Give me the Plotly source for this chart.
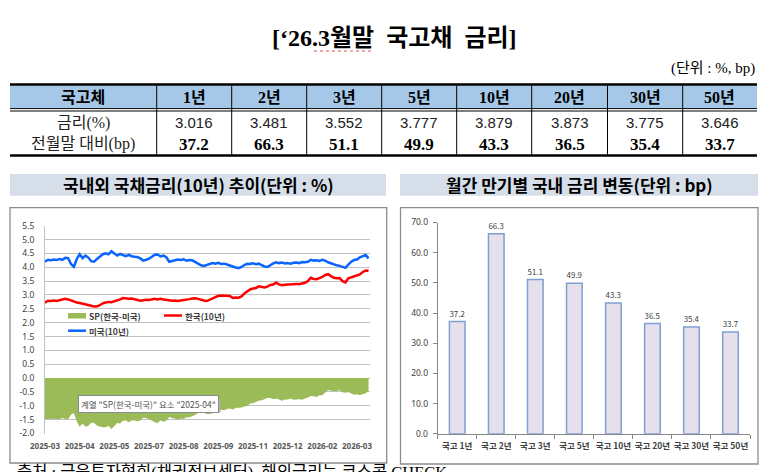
import plotly.graph_objects as go

W, H = 780, 472

# table / bar data
tenors = ['1년', '2년', '3년', '5년', '10년', '20년', '30년', '50년']
rates = [3.016, 3.481, 3.552, 3.777, 3.879, 3.873, 3.775, 3.646]
changes = [37.2, 66.3, 51.1, 49.9, 43.3, 36.5, 35.4, 33.7]
bar_cats = ['국고 ' + t for t in tenors]

# 10y yields (one point every ~2 trading days)
tick_labels = ['2025-03', '2025-04', '2025-05', '2025-07', '2025-08',
               '2025-09', '2025-11', '2025-12', '2026-02', '2026-03']
tick_step = 12

us10 = [4.20, 4.27, 4.25, 4.28, 4.26, 4.30, 4.27, 4.34, 4.33, 4.12, 4.02, 4.30,
        4.47, 4.33, 4.42, 4.35, 4.22, 4.20, 4.30, 4.38, 4.47, 4.50, 4.47, 4.58,
        4.50, 4.42, 4.48, 4.43, 4.40, 4.45, 4.40, 4.38, 4.37, 4.32, 4.24, 4.27,
        4.31, 4.38, 4.45, 4.46, 4.39, 4.42, 4.36, 4.20, 4.23, 4.27, 4.28, 4.26,
        4.29, 4.24, 4.26, 4.25, 4.20, 4.12, 4.07, 4.05, 4.08, 4.13, 4.15, 4.13,
        4.16, 4.12, 4.13, 4.10, 4.06, 4.02, 3.99, 3.97, 4.01, 4.08, 4.13, 4.12,
        4.14, 4.11, 4.13, 4.08, 4.03, 4.01, 4.08, 4.14, 4.18, 4.15, 4.17, 4.14,
        4.15, 4.13, 4.16, 4.17, 4.15, 4.19, 4.18, 4.20, 4.27, 4.24, 4.25, 4.23,
        4.27, 4.24, 4.18, 4.14, 4.09, 4.07, 4.05, 4.01, 3.98, 4.10, 4.20, 4.26,
        4.28, 4.36, 4.40, 4.44, 4.32]

kr10 = [2.72, 2.79, 2.78, 2.80, 2.78, 2.81, 2.83, 2.86, 2.84, 2.80, 2.76, 2.73,
        2.71, 2.69, 2.66, 2.63, 2.61, 2.58, 2.59, 2.63, 2.70, 2.73, 2.75, 2.74,
        2.77, 2.80, 2.84, 2.89, 2.87, 2.86, 2.87, 2.85, 2.81, 2.79, 2.81, 2.83,
        2.82, 2.85, 2.86, 2.84, 2.86, 2.84, 2.82, 2.80, 2.79, 2.80, 2.78, 2.80,
        2.81, 2.83, 2.85, 2.87, 2.88, 2.86, 2.82, 2.80, 2.78, 2.83, 2.88, 2.94,
        2.97, 2.98, 2.97, 2.98, 2.96, 2.89, 2.91, 2.90, 2.95, 3.05, 3.12, 3.20,
        3.23, 3.25, 3.31, 3.28, 3.27, 3.30, 3.36, 3.38, 3.44, 3.38, 3.35, 3.37,
        3.38, 3.39, 3.38, 3.40, 3.39, 3.41, 3.44, 3.50, 3.62, 3.58, 3.57, 3.61,
        3.65, 3.72, 3.75, 3.68, 3.62, 3.60, 3.61, 3.50, 3.45, 3.60, 3.64, 3.66,
        3.70, 3.74, 3.83, 3.88, 3.87]

idx = list(range(len(us10)))
sp = [round(k - u, 2) for k, u in zip(kr10, us10)]

KR = 'Noto Sans CJK KR'
SERIF = 'Liberation Serif, Noto Sans CJK KR'


def X(px):
    return px / W


def Y(py):
    return 1 - py / H


shapes = []
annotations = []


def line(x0, y0, x1, y1, color='black', width=1, dash='solid'):
    shapes.append(dict(type='line', xref='paper', yref='paper',
                       x0=X(x0), y0=Y(y0), x1=X(x1), y1=Y(y1),
                       line=dict(color=color, width=width, dash=dash)))


def rect(x0, y0, x1, y1, fill=None, color=None, width=0, layer='above'):
    shapes.append(dict(type='rect', xref='paper', yref='paper', layer=layer,
                       x0=X(x0), y0=Y(y0), x1=X(x1), y1=Y(y1),
                       fillcolor=fill or 'rgba(0,0,0,0)',
                       line=dict(color=color or 'rgba(0,0,0,0)', width=width)))


def text(x, y, s, size, family=KR, color='black', bold=False, xanchor='center',
         yanchor='middle', **kw):
    annotations.append(dict(x=X(x), y=Y(y), xref='paper', yref='paper', text=s,
                            showarrow=False, xanchor=xanchor, yanchor=yanchor,
                            font=dict(family=family, size=size, color=color,
                                      weight='bold' if bold else 'normal'), **kw))


# title
text(394, 38, '[‘26.3월말\u00a0\u00a0국고채\u00a0\u00a0금리]', 24, SERIF, bold=True)
line(314, 51, 372, 51, color='#E05050', width=1, dash='dot')
text(757, 68, '(단위 : %, bp)', 15, SERIF, xanchor='right')

# table
col_edges = [10, 156.7, 231.7, 306.7, 381.7, 456.7, 531.7, 607.5, 682.7, 757]
rect(10, 85.5, 757, 108.3, fill='#A6C8E8')
line(10, 84.5, 757, 84.5, width=2.5)
line(10, 108.6, 757, 108.6, width=1)
line(10, 111, 757, 111, width=1)
line(10, 155.5, 757, 155.5, width=2.5)
for xe in col_edges[1:-1]:
    line(xe, 85.5, xe, 154.5, width=1)

centers = [(a + b) / 2 for a, b in zip(col_edges[:-1], col_edges[1:])]
text(centers[0], 97, '국고체', 16, SERIF, bold=True)
text(centers[0], 122.5, '금리(%)', 16, SERIF, color='#222222')
text(centers[0], 144, '전월말 대비(bp)', 16, SERIF, color='#222222')
for c, t, r, ch in zip(centers[1:], tenors, rates, changes):
    text(c, 97, t, 16, SERIF, bold=True)
    text(c, 122.5, f'{r:.3f}', 15, 'Liberation Sans', color='#222222')
    text(c, 144, f'{ch:.1f}', 17, SERIF, bold=True)

# panel headers and frames
rect(10, 174, 386, 195.7, fill='#D6DFE9', layer='below')
rect(400, 174, 758, 195.7, fill='#D6DFE9', layer='below')
text(198, 185, '국내외 국채금리(10년) 추이(단위 : %)', 17, KR, bold=True)
text(579, 185, '월간 만기별 국내 금리 변동(단위 : bp)', 17, KR, bold=True)
rect(10, 207.7, 386.7, 463, color='#8C8C8C', width=1.3, layer='below')
rect(400.5, 207.7, 758, 464, color='#8C8C8C', width=1.3, layer='below')

# legend of the line chart (drawn by hand, two rows like Excel)
rect(68, 313, 86, 318.5, fill='#9BBB59')
text(87, 315.7, 'SP(한국-미국)', 8.5, KR, color='#404040', bold=True, xanchor='left')
line(164, 315.5, 182, 315.5, color='#FF0000', width=2.5)
text(183, 315.7, '한국(10년)', 8.5, KR, color='#404040', bold=True, xanchor='left')
line(68, 330.7, 86, 330.7, color='#0A64FF', width=2.5)
text(87, 331, '미국(10년)', 8.5, KR, color='#404040', bold=True, xanchor='left')

# Excel hover tip
rect(80, 400, 220.5, 412.5, fill='#B0B0B0')
text(148, 404, '계열 "SP(한국-미국)" 요소 "2025-04"', 8.5, KR, color='#505050',
     bgcolor='#FFFFFF', bordercolor='#8C8C8C', borderwidth=1, borderpad=2)

# source line, cut by the bottom edge
text(15, 460.5, '출처 : 금융투자협회(채권정보센터), 해외금리는 코스콤 CHECK', 16.5,
     SERIF, xanchor='left', yanchor='top')

fig = go.Figure()
fig.add_trace(go.Scatter(x=idx, y=sp, mode='none', fill='tozeroy',
                         fillcolor='#9BBB59', xaxis='x', yaxis='y',
                         hoverinfo='skip', showlegend=False))
fig.add_trace(go.Scatter(x=idx, y=kr10, mode='lines',
                         line=dict(color='#FF0000', width=2.5),
                         xaxis='x', yaxis='y', hoverinfo='skip', showlegend=False))
fig.add_trace(go.Scatter(x=idx, y=us10, mode='lines',
                         line=dict(color='#0A64FF', width=2.5),
                         xaxis='x', yaxis='y', hoverinfo='skip', showlegend=False))
fig.add_trace(go.Bar(x=bar_cats, y=changes, xaxis='x2', yaxis='y2',
                     marker=dict(color='#E6E0EC', line=dict(color='#7F9ED2', width=1.5)),
                     texttemplate='%{y:.1f}', textposition='outside', cliponaxis=False,
                     textfont=dict(family=KR, size=8.5, color='#404040'),
                     hoverinfo='skip', showlegend=False))

yticks = [i * 0.5 for i in range(-4, 12)]
bar_ticks = [i * 10 for i in range(8)]

fig.update_layout(
    template='none',
    width=W, height=H,
    margin=dict(l=0, r=0, t=0, b=0, pad=0),
    paper_bgcolor='white', plot_bgcolor='rgba(0,0,0,0)',
    showlegend=False,
    bargap=0.6,
    xaxis=dict(domain=[X(45), X(370)], anchor='y', range=[0, 112.5],
               automargin=False,
               tickvals=[i * tick_step for i in range(len(tick_labels))],
               ticktext=tick_labels, showgrid=False, zeroline=False,
               showline=False, ticks='', ticklabelstandoff=6,
               tickfont=dict(family='Noto Sans', size=8, color='#595959', weight='bold')),
    yaxis=dict(domain=[Y(433.5), Y(225.7)], anchor='x', range=[-2, 5.5],
               automargin=False,
               tickvals=yticks, ticktext=[f'{v:.1f}' for v in yticks],
               showgrid=True, gridcolor='#C0C0C0', gridwidth=1.2,
               zeroline=False, showline=True, linecolor='#C0C0C0', linewidth=1,
               ticks='', ticklabelstandoff=8,
               tickfont=dict(family='Noto Sans', size=8.5, color='#404040')),
    xaxis2=dict(domain=[X(437.7), X(750)], anchor='y2', type='category',
                automargin=False, tickangle=0,
                showline=True, linecolor='#868686', linewidth=1,
                ticks='outside', tickson='boundaries', ticklen=4, tickcolor='#868686',
                showgrid=False, zeroline=False, ticklabelstandoff=4,
                tickfont=dict(family=KR, size=8.5, color='#404040', weight='bold')),
    yaxis2=dict(domain=[Y(433.7), Y(222.5)], anchor='x2', range=[0, 70],
                automargin=False,
                tickvals=bar_ticks, ticktext=[f'{v:.1f}' for v in bar_ticks],
                showline=True, linecolor='#868686', linewidth=1,
                ticks='outside', ticklen=4, tickcolor='#868686',
                showgrid=False, zeroline=False, ticklabelstandoff=3,
                tickfont=dict(family='Noto Sans', size=8.5, color='#404040')),
    shapes=shapes,
    annotations=annotations,
)

# the page body has a default 8px margin; drop it so the figure sits at 0,0
fig.write_html('out.html', config={'displayModeBar': False},
               post_script="document.body.style.margin='0';")
